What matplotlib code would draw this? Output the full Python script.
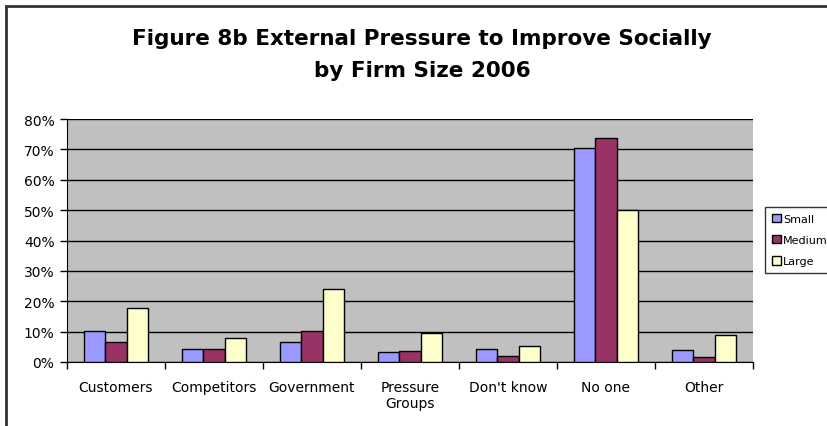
import matplotlib
matplotlib.use("Agg")
import matplotlib.pyplot as plt
import matplotlib.patches as mpatches
import numpy as np

categories = ["Customers", "Competitors", "Government", "Pressure\nGroups",
              "Don't know", "No one", "Other"]
small = [10.3, 4.2, 6.5, 3.2, 4.2, 70.3, 3.9]
medium = [6.5, 4.2, 10.3, 3.6, 2.1, 73.6, 1.7]
large = [17.7, 7.9, 24.0, 9.6, 5.2, 50.1, 9.0]
series_names = ["Small", "Medium", "Large"]
colors = ["#9999FF", "#993366", "#FFFFCC"]
yticks = [0, 10, 20, 30, 40, 50, 60, 70, 80]

W, H = 828, 427
fig = plt.figure(figsize=(W / 100, H / 100), dpi=100)
fig.patch.set_facecolor("white")

# outer chart border
fig.add_artist(mpatches.Rectangle((6.5 / W, -0.1), 1.2, (H - 6.5) / H + 0.1,
                                  transform=fig.transFigure, fill=False,
                                  edgecolor="#333333", linewidth=2))

left, right, top, bottom = 67, 753, 120, 363
ax = fig.add_axes([left / W, (H - bottom) / H, (right - left) / W, (bottom - top) / H])
ax.set_facecolor("#C0C0C0")

x = np.arange(len(categories))
bw = 0.22
for i, (vals, name, c) in enumerate(zip([small, medium, large], series_names, colors)):
    ax.bar(x + (i - 1) * bw, vals, width=bw, color=c, edgecolor="black",
           linewidth=1, label=name, zorder=3)

ax.set_xlim(-0.5, len(categories) - 0.5)
ax.set_ylim(0, 80)
ax.set_yticks(yticks)
ax.set_yticklabels([f"{v}%" for v in yticks])
ax.yaxis.grid(True, color="black", linewidth=1, zorder=1)
ax.set_axisbelow(True)

ax.set_xticks(x)
ax.set_xticklabels(categories)
ax.set_xticks(np.arange(-0.5, len(categories)), minor=True)
ax.tick_params(axis="x", which="major", length=0, pad=13, labelsize=10)
ax.tick_params(axis="x", which="minor", length=5, width=1, direction="out")
ax.tick_params(axis="y", length=5, width=1, direction="out", labelsize=10, pad=4)

for s in ["top", "right"]:
    ax.spines[s].set_visible(False)
ax.spines["left"].set_color("black")
ax.spines["bottom"].set_color("black")

fig.text(422 / W, 1 - 39 / H, "Figure 8b External Pressure to Improve Socially",
         ha="center", va="center", fontsize=15.5, fontweight="bold")
fig.text(422 / W, 1 - 71 / H, "by Firm Size 2006",
         ha="center", va="center", fontsize=15.5, fontweight="bold")

leg = fig.legend(loc="upper left", bbox_to_anchor=(765 / W, 1 - 208 / H),
                 frameon=True, fancybox=False, edgecolor="black", fontsize=8,
                 handlelength=0.8, handleheight=0.8, handletextpad=0.25,
                 labelspacing=1.0, borderpad=0.6, borderaxespad=0)
leg.get_frame().set_linewidth(1)

fig.savefig("out.png", dpi=100)
